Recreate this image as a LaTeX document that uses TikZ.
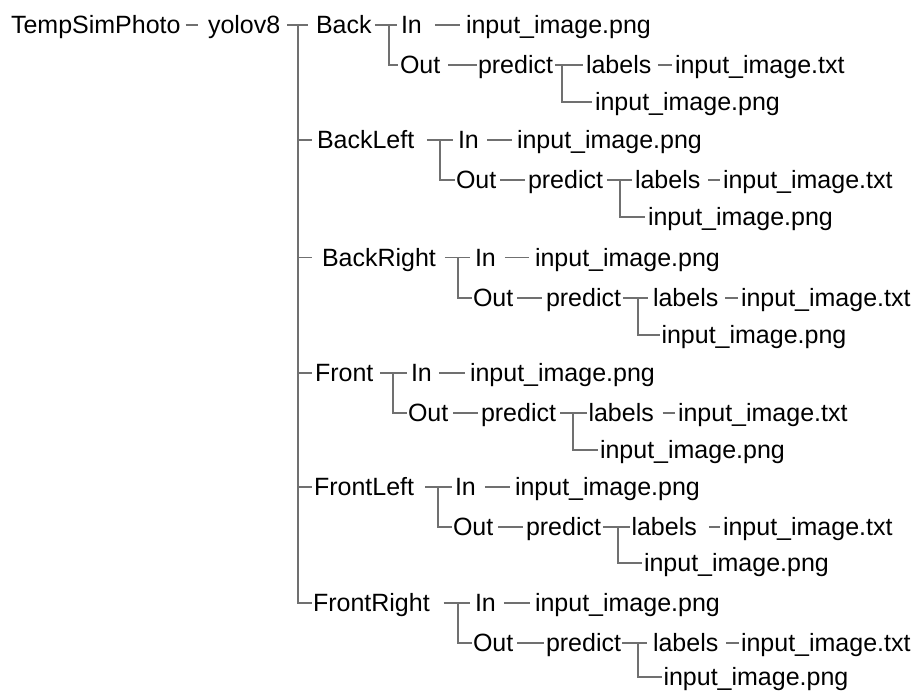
\documentclass[tikz,border=0pt]{standalone}
\usepackage{fontspec}
\setmainfont{Liberation Sans}
\definecolor{linegray}{RGB}{112,112,112}
\begin{document}
\begin{tikzpicture}[x=1pt,y=-1pt,
  t/.style={anchor=west,inner sep=0pt,outer sep=0pt,text height=23pt,text depth=5.1pt,font=\fontsize{25}{30}\selectfont},
  ln/.style={draw=linegray,line width=1.2pt}]
\useasboundingbox (0,0) rectangle (917,692);
% root
\node[t] (tsp) at (11,25) {TempSimPhoto};
\node[t] (yolo) at (208,25) {yolov8};
\draw[ln] ([xshift=5pt]tsp.east) -- ([xshift=-10pt]yolo.west);
% block names
\node[t] (b1) at (316,25) {Back};
\node[t] (b2) at (317,140) {BackLeft};
\node[t] (b3) at (322,257.5) {BackRight};
\node[t] (b4) at (315,373) {Front};
\node[t] (b5) at (314,487) {FrontLeft};
\node[t] (b6) at (313,603) {FrontRight};
\coordinate (j0) at (298,25);
\draw[ln] ([xshift=7pt]yolo.east) -- ([xshift=-8pt]b1.west);
\draw[ln] (j0) |- ([xshift=-1pt]b6.west);
\draw[ln] (j0 |- b2.west) -- ([xshift=-5pt]b2.west);
\draw[ln] (j0 |- b3.west) -- ([xshift=-10pt]b3.west);
\draw[ln] (j0 |- b4.west) -- ([xshift=-3pt]b4.west);
\draw[ln] (j0 |- b5.west) -- ([xshift=-2pt]b5.west);
% ---------- block 1
\node[t] (i1) at (401,25) {In};
\node[t] (g1) at (466,25) {input\_image.png};
\node[t] (o1) at (400,65) {Out};
\node[t] (p1) at (478,65) {predict};
\node[t] (l1) at (586,65) {labels};
\node[t] (x1) at (675,65) {input\_image.txt};
\node[t] (q1) at (595,102) {input\_image.png};
\coordinate (v1) at (389,25);
\draw[ln] ([xshift=3.4pt]b1.east) -- ([xshift=-4pt]i1.west);
\draw[ln] (v1) |- ([xshift=-2pt]o1.west);
\draw[ln] ([xshift=13pt]i1.east) -- ([xshift=-6pt]g1.west);
\draw[ln] ([xshift=7.7pt]o1.east) -- ([xshift=-1.5pt]p1.west);
\coordinate (w1) at (562,65);
\draw[ln] ([xshift=2pt]p1.east) -- ([xshift=-3pt]l1.west);
\draw[ln] (w1) |- ([xshift=-3pt]q1.west);
\draw[ln] ([xshift=6.7pt]l1.east) -- ([xshift=-3pt]x1.west);
% ---------- block 2
\node[t] (i2) at (458,140) {In};
\node[t] (g2) at (517,140) {input\_image.png};
\node[t] (o2) at (456,180) {Out};
\node[t] (p2) at (528,180) {predict};
\node[t] (l2) at (635,180) {labels};
\node[t] (x2) at (723,180) {input\_image.txt};
\node[t] (q2) at (648,217) {input\_image.png};
\coordinate (v2) at (440,140);
\draw[ln] ([xshift=12.7pt]b2.east) -- ([xshift=-5pt]i2.west);
\draw[ln] (v2) |- ([xshift=-1pt]o2.west);
\draw[ln] ([xshift=8.2pt]i2.east) -- ([xshift=-5pt]g2.west);
\draw[ln] ([xshift=3.7pt]o2.east) -- ([xshift=-3pt]p2.west);
\coordinate (w2) at (620,180);
\draw[ln] ([xshift=4pt]p2.east) -- ([xshift=-3pt]l2.west);
\draw[ln] (w2) |- ([xshift=-3pt]q2.west);
\draw[ln] ([xshift=7.7pt]l2.east) -- ([xshift=-3pt]x2.west);
% ---------- block 3
\node[t] (i3) at (475,257.5) {In};
\node[t] (g3) at (535,257.5) {input\_image.png};
\node[t] (o3) at (473,298) {Out};
\node[t] (p3) at (546,298) {predict};
\node[t] (l3) at (653,298) {labels};
\node[t] (x3) at (741,298) {input\_image.txt};
\node[t] (q3) at (661.5,335) {input\_image.png};
\coordinate (v3) at (458,257.5);
\draw[ln] ([xshift=9pt]b3.east) -- ([xshift=-5pt]i3.west);
\draw[ln] (v3) |- ([xshift=-1pt]o3.west);
\draw[ln] ([xshift=9pt]i3.east) -- ([xshift=-6pt]g3.west);
\draw[ln] ([xshift=3.7pt]o3.east) -- ([xshift=-4pt]p3.west);
\coordinate (w3) at (638,298);
\draw[ln] ([xshift=2pt]p3.east) -- ([xshift=-5pt]l3.west);
\draw[ln] (w3) |- ([xshift=-1.5pt]q3.west);
\draw[ln] ([xshift=6.7pt]l3.east) -- ([xshift=-3pt]x3.west);
% ---------- block 4
\node[t] (i4) at (411,373) {In};
\node[t] (g4) at (470,373) {input\_image.png};
\node[t] (o4) at (408,413) {Out};
\node[t] (p4) at (481,413) {predict};
\node[t] (l4) at (588.5,413) {labels};
\node[t] (x4) at (678,413) {input\_image.txt};
\node[t] (q4) at (600,450) {input\_image.png};
\coordinate (v4) at (393,373);
\draw[ln] ([xshift=6.6pt]b4.east) -- ([xshift=-4pt]i4.west);
\draw[ln] (v4) |- ([xshift=-1pt]o4.west);
\draw[ln] ([xshift=7pt]i4.east) -- ([xshift=-5pt]g4.west);
\draw[ln] ([xshift=4.7pt]o4.east) -- ([xshift=-3pt]p4.west);
\coordinate (w4) at (573,413);
\draw[ln] ([xshift=4pt]p4.east) -- ([xshift=-2pt]l4.west);
\draw[ln] (w4) |- ([xshift=-2pt]q4.west);
\draw[ln] ([xshift=8.7pt]l4.east) -- ([xshift=-3pt]x4.west);
% ---------- block 5
\node[t] (i5) at (455,487) {In};
\node[t] (g5) at (515,487) {input\_image.png};
\node[t] (o5) at (453,527) {Out};
\node[t] (p5) at (526,527) {predict};
\node[t] (l5) at (631.5,527) {labels};
\node[t] (x5) at (723,527) {input\_image.txt};
\node[t] (q5) at (644,563) {input\_image.png};
\coordinate (v5) at (438,487);
\draw[ln] ([xshift=11pt]b5.east) -- ([xshift=-3pt]i5.west);
\draw[ln] (v5) |- ([xshift=-1pt]o5.west);
\draw[ln] ([xshift=9pt]i5.east) -- ([xshift=-5pt]g5.west);
\draw[ln] ([xshift=4.7pt]o5.east) -- ([xshift=-3pt]p5.west);
\coordinate (w5) at (618,527);
\draw[ln] ([xshift=2pt]p5.east) -- ([xshift=-1.5pt]l5.west);
\draw[ln] (w5) |- ([xshift=-2pt]q5.west);
\draw[ln] ([xshift=12pt]l5.east) -- ([xshift=-3pt]x5.west);
% ---------- block 6
\node[t] (i6) at (475,603) {In};
\node[t] (g6) at (535,603) {input\_image.png};
\node[t] (o6) at (473,643) {Out};
\node[t] (p6) at (546,643) {predict};
\node[t] (l6) at (653,643) {labels};
\node[t] (x6) at (741,643) {input\_image.txt};
\node[t] (q6) at (663.5,677) {input\_image.png};
\coordinate (v6) at (458,603);
\draw[ln] ([xshift=14pt]b6.east) -- ([xshift=-5pt]i6.west);
\draw[ln] (v6) |- ([xshift=-1pt]o6.west);
\draw[ln] ([xshift=8pt]i6.east) -- ([xshift=-5pt]g6.west);
\draw[ln] ([xshift=3.7pt]o6.east) -- ([xshift=-2pt]p6.west);
\coordinate (w6) at (638,643);
\draw[ln] ([xshift=1pt]p6.east) -- ([xshift=-6pt]l6.west);
\draw[ln] (w6) |- ([xshift=-2pt]q6.west);
\draw[ln] ([xshift=7.7pt]l6.east) -- ([xshift=-2pt]x6.west);
\end{tikzpicture}
\end{document}
